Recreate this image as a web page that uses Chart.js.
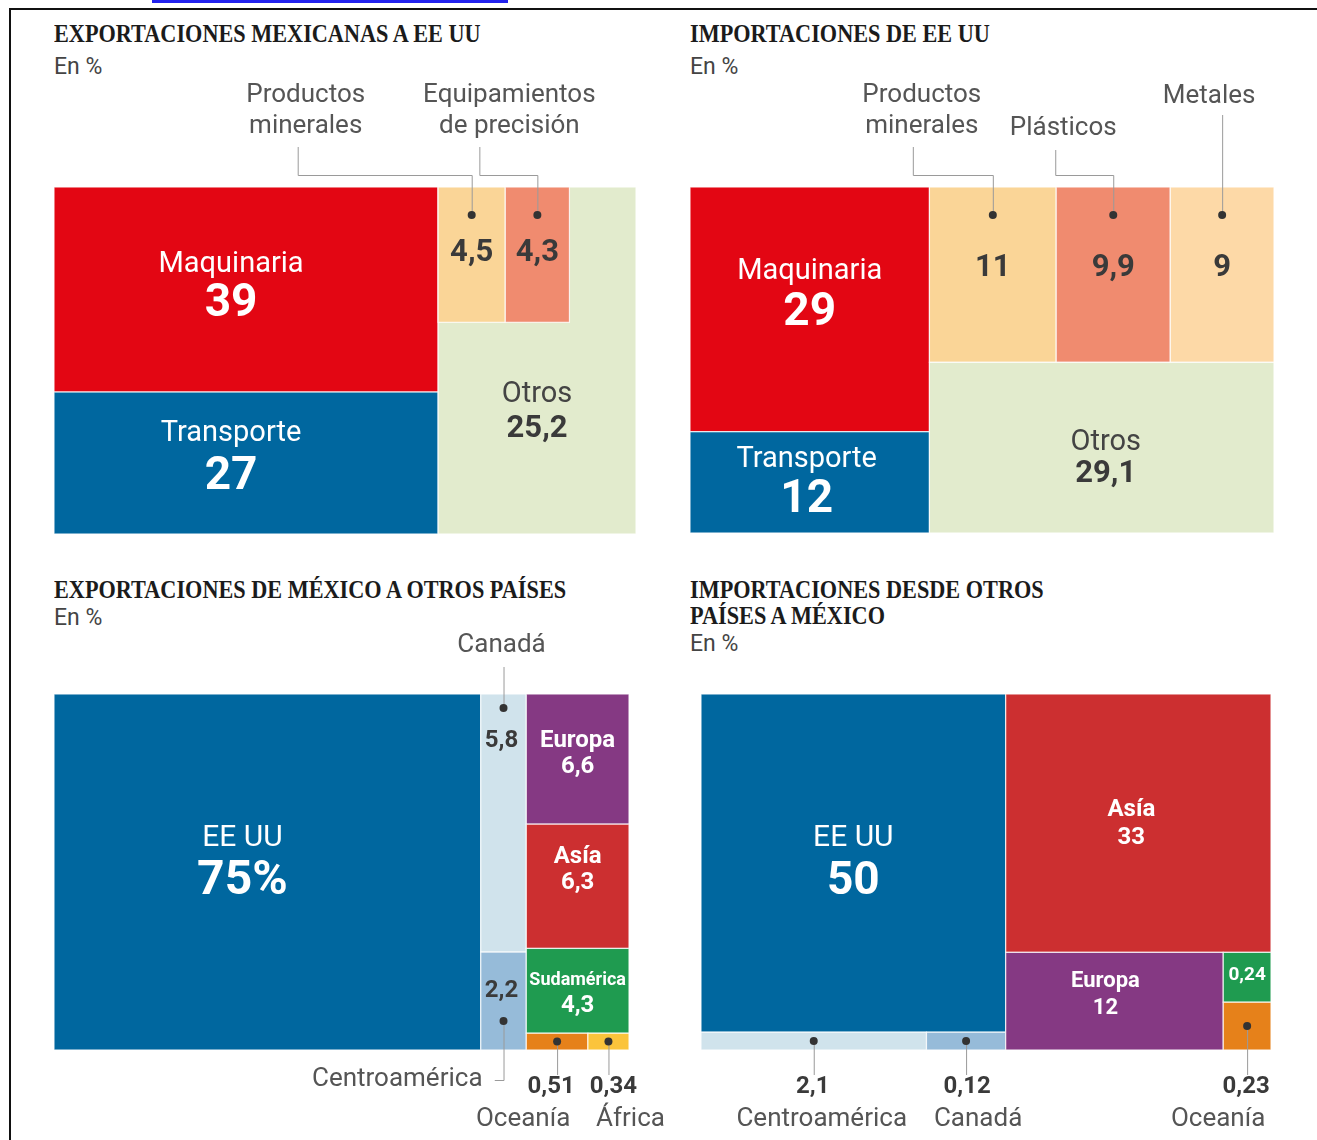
<!DOCTYPE html>
<html>
<head>
<meta charset="utf-8">
<script src="https://cdn.jsdelivr.net/npm/chart.js@4.4.1/dist/chart.umd.min.js"></script>
<style>
  body { margin: 0; background: #fff; width: 1317px; height: 1140px; position: relative; overflow: hidden; font-family: Roboto, "Open Sans", sans-serif; }
  .frame { position: absolute; left: 9px; top: 8px; width: 1320px; height: 1140px; border-top: 2px solid #111; border-left: 2px solid #111; }
  .link { position: absolute; left: 152px; top: 0; width: 356px; height: 3px; background: #2222ee; }
  .title { position: absolute; font-family: "Liberation Serif", serif; font-weight: 700; font-size: 25px; line-height: 26px; color: #1b1b1b; transform: scaleX(0.89); transform-origin: 0 0; white-space: nowrap; }
  .sub { position: absolute; font-size: 23px; line-height: 24px; color: #444; }
  canvas { position: absolute; }
</style>
</head>
<body>
<div class="link"></div>
<div class="frame"></div>

<div class="title" style="left:54px;top:21px">EXPORTACIONES MEXICANAS A EE UU</div>
<div class="sub" style="left:54px;top:55px">En %</div>
<div class="title" style="left:690px;top:21px">IMPORTACIONES DE EE UU</div>
<div class="sub" style="left:690px;top:55px">En %</div>
<div class="title" style="left:54px;top:577px">EXPORTACIONES DE MÉXICO A OTROS PAÍSES</div>
<div class="sub" style="left:54px;top:606px">En %</div>
<div class="title" style="left:690px;top:577px">IMPORTACIONES DESDE OTROS<br>PAÍSES A MÉXICO</div>
<div class="sub" style="left:690px;top:632px">En %</div>

<canvas id="exportChart"></canvas>
<canvas id="importChart"></canvas>
<canvas id="destChart"></canvas>
<canvas id="originChart"></canvas>

<script>
// data
const exportCats = ['Maquinaria', 'Transporte', 'Productos minerales', 'Equipamientos de precisión', 'Otros'];
const exportVals = [39, 27, 4.5, 4.3, 25.2];

const importCats = ['Maquinaria', 'Transporte', 'Productos minerales', 'Plásticos', 'Metales', 'Otros'];
const importVals = [29, 12, 11, 9.9, 9, 29.1];

const destCats = ['EE UU', 'Canadá', 'Centroamérica', 'Europa', 'Asía', 'Sudamérica', 'Oceanía', 'África'];
const destVals = [75, 5.8, 2.2, 6.6, 6.3, 4.3, 0.51, 0.34];

const originCats = ['EE UU', 'Centroamérica', 'Canadá', 'Asía', 'Europa', 'Sudamérica', 'Oceanía'];
const originVals = [50, 2.1, 0.12, 33, 12, 0.24, 0.23];

// colours
const RED = '#e30613', BLUE = '#00679f', PEACH = '#fad597', SALMON = '#f08b6f', PEACH2 = '#fdd9a7', OTROS = '#e2ebcd';
const LIGHTBLUE = '#d0e3ec', MIDBLUE = '#96bbd9', PURPLE = '#853983', RED2 = '#cc2f30', GREEN = '#1f9b50', ORANGE = '#e6811a', YELLOW = '#fbc43b';
const W = '#ffffff', DARK = '#3a3a3a', GREY = '#555555';

const exportColors = [RED, BLUE, PEACH, SALMON, OTROS];
const importColors = [RED, BLUE, PEACH, SALMON, PEACH2, OTROS];
const destColors = [BLUE, LIGHTBLUE, MIDBLUE, PURPLE, RED2, GREEN, ORANGE, YELLOW];
const originColors = [BLUE, LIGHTBLUE, MIDBLUE, RED2, PURPLE, GREEN, ORANGE];

// how the cells are nested: h = side by side, v = stacked
const exportTree = { d: 'h', c: [{ d: 'v', c: [0, 1] }, { bg: 4, band: 0.39, c: [2, 3] }] };
const importTree = { d: 'h', c: [{ d: 'v', c: [0, 1] }, { d: 'v', c: [{ d: 'h', c: [2, 3, 4] }, 5] }] };
const destTree = { d: 'h', c: [0, { d: 'v', c: [1, 2] }, { d: 'v', c: [3, 4, 5, { d: 'h', c: [6, 7] }] }] };
const originTree = { d: 'h', c: [
  { d: 'v', min: 0.05, c: [0, { d: 'h', min: 0.26, c: [1, 2] }] },
  { d: 'v', c: [3, { d: 'h', min: 0.18, c: [4, { d: 'v', c: [5, 6] }] }] }
] };

// label styles per cell
const NAME = '400 29px', BIG = '700 46px', MID = '700 31px', CALL = '400 26px', SMALL = '700 24px';

const exportLabels = [
  { inside: [{ s: 'n', dx: -15, dy: -25, f: NAME, c: W }, { s: 'v', dx: -15, dy: 15, f: BIG, c: W }] },
  { inside: [{ s: 'n', dx: -15, dy: -29, f: NAME, c: W }, { s: 'v', dx: -15, dy: 14, f: BIG, c: W }] },
  { inside: [{ s: 'v', dy: -1, f: MID, c: DARK }], dot: { ref: 't', dy: 28 }, lead: { ref: 't', elbow: -12, kx: -174, top: -40 },
    outside: [{ s: 'n', wrap: true, dx: -166, dy: -92, f: CALL, c: GREY }] },
  { inside: [{ s: 'v', dy: -1, f: MID, c: DARK }], dot: { ref: 't', dy: 28 }, lead: { ref: 't', elbow: -12, kx: -58, top: -40 },
    outside: [{ s: 'n', wrap: true, dx: -28, dy: -92, f: CALL, c: GREY }] },
  { inside: [{ s: 'n', dy: -33, f: NAME, c: '#444' }, { s: 'v', dy: 1, f: MID, c: DARK }] }
];

const importLabels = [
  { inside: [{ s: 'n', dy: -38, f: NAME, c: W }, { s: 'v', dy: 4, f: BIG, c: W }] },
  { inside: [{ s: 'n', dx: -3, dy: -23, f: NAME, c: W }, { s: 'v', dx: -3, dy: 18, f: BIG, c: W }] },
  { inside: [{ s: 'v', dy: -6, f: MID, c: DARK }], dot: { ref: 't', dy: 28 }, lead: { ref: 't', elbow: -12, kx: -80, top: -40 },
    outside: [{ s: 'n', wrap: true, dx: -71, dy: -92, f: CALL, c: GREY }] },
  { inside: [{ s: 'v', dy: -6, f: MID, c: DARK }], dot: { ref: 't', dy: 28 }, lead: { ref: 't', elbow: -12, kx: -58, top: -37 },
    outside: [{ s: 'n', dx: -50, dy: -59, f: CALL, c: GREY }] },
  { inside: [{ s: 'v', dy: -6, f: MID, c: DARK }], dot: { ref: 't', dy: 28 }, lead: { ref: 't', top: -72 },
    outside: [{ s: 'n', dx: -13, dy: -91, f: CALL, c: GREY }] },
  { inside: [{ s: 'n', dx: 4, dy: -5, f: NAME, c: '#444' }, { s: 'v', dx: 4, dy: 27, f: MID, c: DARK }] }
];

const destLabels = [
  { pct: true, inside: [{ s: 'n', dx: -25, dy: -34, f: '400 30px', c: W }, { s: 'v', dx: -25, dy: 10, f: '700 48px', c: W }] },
  { dot: { ref: 't', dy: 14 }, lead: { ref: 't', top: -27 },
    outside: [{ s: 'n', dx: -2, dy: -49, f: CALL, c: GREY }, { s: 'v', dx: -2, dy: 47, f: SMALL, c: DARK }] },
  { dot: { ref: 'b', dy: -29 }, lead: { ref: 'b', elbow: 30, kx: -9, top: 30 },
    outside: [{ s: 'n', dx: -21, dy: 29, f: CALL, c: GREY, a: 'right' }, { s: 'v', dx: -2, dy: -59, f: SMALL, c: DARK }] },
  { inside: [{ s: 'n', dy: -18, f: SMALL, c: W }, { s: 'v', dy: 8, f: SMALL, c: W }] },
  { inside: [{ s: 'n', dy: -29, f: SMALL, c: W }, { s: 'v', dy: -3, f: SMALL, c: W }] },
  { inside: [{ s: 'n', dy: -10, f: '700 18px', c: W }, { s: 'v', dy: 15, f: SMALL, c: W }] },
  { dot: { ref: 'c' }, lead: { ref: 'b', top: 25 },
    outside: [{ s: 'v', dx: -6, dy: 37, f: SMALL, c: DARK }, { s: 'n', dx: -34, dy: 69, f: CALL, c: GREY }] },
  { dot: { ref: 'c' }, lead: { ref: 'b', top: 25 },
    outside: [{ s: 'v', dx: 5, dy: 37, f: SMALL, c: DARK }, { s: 'n', dx: 22, dy: 69, f: CALL, c: GREY }] }
];

const originLabels = [
  { inside: [{ s: 'n', dy: -25, f: '400 30px', c: W }, { s: 'v', dy: 19, f: BIG, c: W }] },
  { dot: { ref: 'c' }, lead: { ref: 'b', top: 25 },
    outside: [{ s: 'v', dx: -1, dy: 37, f: SMALL, c: DARK }, { s: 'n', dx: 8, dy: 69, f: CALL, c: GREY }] },
  { dot: { ref: 'c' }, lead: { ref: 'b', top: 25 },
    outside: [{ s: 'v', dx: 1, dy: 37, f: SMALL, c: DARK }, { s: 'n', dx: 12, dy: 69, f: CALL, c: GREY }] },
  { inside: [{ s: 'n', dx: -7, dy: -13, f: SMALL, c: W }, { s: 'v', dx: -7, dy: 15, f: SMALL, c: W }] },
  { inside: [{ s: 'n', dx: -9, dy: -20, f: '700 22px', c: W }, { s: 'v', dx: -9, dy: 7, f: '700 22px', c: W }] },
  { inside: [{ s: 'v', dy: -2, f: '700 19px', c: W }] },
  { dot: { ref: 'c' }, lead: { ref: 'b', top: 25 },
    outside: [{ s: 'v', dx: -1, dy: 37, f: SMALL, c: DARK }, { s: 'n', dx: -29, dy: 69, f: CALL, c: GREY }] }
];

function fmt(v) {
  return String(v).replace('.', ',');
}

function weight(node, vals) {
  if (typeof node === 'number') return vals[node];
  let w = node.c.reduce((s, k) => s + weight(k, vals), 0);
  if (node.bg !== undefined) w += vals[node.bg];
  return w;
}

// slice-and-dice layout in 0..100 units on both axes
function place(node, vals, total, r, out) {
  if (typeof node === 'number') {
    out.push({ i: node, x0: r.x0, y0: r.y0, x1: r.x1, y1: r.y1, ly0: r.y0 });
    return;
  }
  if (node.bg !== undefined) {
    const hb = node.band * 100;
    out.push({ i: node.bg, x0: r.x0, y0: r.y0, x1: r.x1, y1: r.y1, ly0: r.y0 + hb });
    let x = r.x0;
    node.c.forEach(k => {
      const w = vals[k] / total * 10000 / hb;
      out.push({ i: k, x0: x, y0: r.y0, x1: x + w, y1: r.y0 + hb, ly0: r.y0 });
      x += w;
    });
    return;
  }
  let s = node.c.map(k => weight(k, vals));
  const sum = s.reduce((a, b) => a + b, 0);
  s = s.map(w => w / sum);
  if (node.min) {
    const small = s.map(f => f < node.min);
    const nSmall = small.filter(Boolean).length;
    const rest = s.reduce((a, f, j) => a + (small[j] ? 0 : f), 0);
    s = s.map((f, j) => small[j] ? node.min : f * (1 - nSmall * node.min) / rest);
  }
  let pos = node.d === 'h' ? r.x0 : r.y0;
  node.c.forEach((k, j) => {
    if (node.d === 'h') {
      const w = (r.x1 - r.x0) * s[j];
      place(k, vals, total, { x0: pos, y0: r.y0, x1: pos + w, y1: r.y1 }, out);
      pos += w;
    } else {
      const h = (r.y1 - r.y0) * s[j];
      place(k, vals, total, { x0: r.x0, y0: pos, x1: r.x1, y1: pos + h }, out);
      pos += h;
    }
  });
}

function drawText(ctx, str, x, y, font, color, align) {
  ctx.font = font + ' Roboto, "Open Sans", sans-serif';
  ctx.fillStyle = color;
  ctx.textAlign = align || 'center';
  ctx.textBaseline = 'middle';
  ctx.fillText(str, x, y);
}

function cellPlugin(cats, vals, colors, labels) {
  return {
    id: 'treemapCells',
    afterDatasetsDraw(chart) {
      const ctx = chart.ctx, xs = chart.scales.x, ys = chart.scales.y;
      const cells = chart.data.datasets[0].data;
      ctx.save();
      const px = cells.map(c => ({
        c: c,
        x0: xs.getPixelForValue(c.x0), x1: xs.getPixelForValue(c.x1),
        y0: ys.getPixelForValue(c.y0), y1: ys.getPixelForValue(c.y1),
        ly0: ys.getPixelForValue(c.ly0)
      }));
      px.forEach(p => {
        ctx.fillStyle = colors[p.c.i];
        ctx.fillRect(p.x0, p.y0, p.x1 - p.x0, p.y1 - p.y0);
        ctx.strokeStyle = 'rgba(255,255,255,0.8)';
        ctx.lineWidth = 1.2;
        ctx.strokeRect(p.x0, p.y0, p.x1 - p.x0, p.y1 - p.y0);
      });
      px.forEach(p => {
        const i = p.c.i, spec = labels[i];
        if (!spec) return;
        const name = cats[i];
        const val = fmt(vals[i]) + (spec.pct ? '%' : '');
        const cx = (p.x0 + p.x1) / 2, cy = (p.ly0 + p.y1) / 2;
        (spec.inside || []).forEach(t => {
          drawText(ctx, t.s === 'n' ? name : val, cx + (t.dx || 0), cy + t.dy, t.f, t.c);
        });
        if (spec.dot) {
          const d = spec.dot;
          const dy = d.ref === 't' ? p.y0 + d.dy : d.ref === 'b' ? p.y1 + d.dy : (p.y0 + p.y1) / 2;
          const L = spec.lead;
          const E = L.ref === 't' ? p.y0 : p.y1;
          ctx.strokeStyle = '#9a9a9a';
          ctx.lineWidth = 1;
          ctx.beginPath();
          ctx.moveTo(cx + 0.5, dy);
          if (L.elbow !== undefined) {
            ctx.lineTo(cx + 0.5, E + L.elbow + 0.5);
            ctx.lineTo(cx + L.kx + 0.5, E + L.elbow + 0.5);
            ctx.lineTo(cx + L.kx + 0.5, E + L.top);
          } else {
            ctx.lineTo(cx + 0.5, E + L.top);
          }
          ctx.stroke();
          ctx.fillStyle = '#333';
          ctx.beginPath();
          ctx.arc(cx, dy, 4, 0, Math.PI * 2);
          ctx.fill();
          (spec.outside || []).forEach(t => {
            const str = t.s === 'n' ? name : val;
            if (t.wrap && str.indexOf(' ') > 0) {
              const k = str.indexOf(' ');
              drawText(ctx, str.slice(0, k), cx + t.dx, E + t.dy, t.f, t.c, t.a);
              drawText(ctx, str.slice(k + 1), cx + t.dx, E + t.dy + 31, t.f, t.c, t.a);
            } else {
              drawText(ctx, str, cx + t.dx, E + t.dy, t.f, t.c, t.a);
            }
          });
        }
      });
      ctx.restore();
    }
  };
}

function makeTreemap(id, box, area, cats, vals, tree, colors, labels) {
  const total = vals.reduce((a, b) => a + b, 0);
  const cells = [];
  place(tree, vals, total, { x0: 0, y0: 0, x1: 100, y1: 100 }, cells);
  cells.forEach(c => { c.x = (c.x0 + c.x1) / 2; c.y = (c.y0 + c.y1) / 2; });

  const canvas = document.getElementById(id);
  canvas.width = box.w;
  canvas.height = box.h;
  canvas.style.left = box.x + 'px';
  canvas.style.top = box.y + 'px';

  return new Chart(canvas, {
    type: 'scatter',
    data: { datasets: [{ data: cells, pointRadius: 0, pointHoverRadius: 0 }] },
    options: {
      responsive: false,
      animation: false,
      events: [],
      layout: {
        padding: {
          left: area.x0 - box.x,
          top: area.y0 - box.y,
          right: box.x + box.w - area.x1,
          bottom: box.y + box.h - area.y1
        }
      },
      scales: {
        x: { type: 'linear', min: 0, max: 100, display: false },
        y: { type: 'linear', min: 0, max: 100, reverse: true, display: false }
      },
      plugins: { legend: { display: false }, tooltip: { enabled: false } }
    },
    plugins: [cellPlugin(cats, vals, colors, labels)]
  });
}

document.addEventListener('DOMContentLoaded', function() {
  makeTreemap('exportChart', { x: 20, y: 75, w: 640, h: 480 }, { x0: 54, y0: 187, x1: 636, y1: 534 },
    exportCats, exportVals, exportTree, exportColors, exportLabels);
  makeTreemap('importChart', { x: 665, y: 75, w: 650, h: 480 }, { x0: 690, y0: 187, x1: 1274, y1: 533 },
    importCats, importVals, importTree, importColors, importLabels);
  makeTreemap('destChart', { x: 20, y: 628, w: 660, h: 512 }, { x0: 54, y0: 694, x1: 629, y1: 1050 },
    destCats, destVals, destTree, destColors, destLabels);
  makeTreemap('originChart', { x: 680, y: 628, w: 635, h: 512 }, { x0: 701, y0: 694, x1: 1271, y1: 1050 },
    originCats, originVals, originTree, originColors, originLabels);
});
</script>
</body>
</html>
